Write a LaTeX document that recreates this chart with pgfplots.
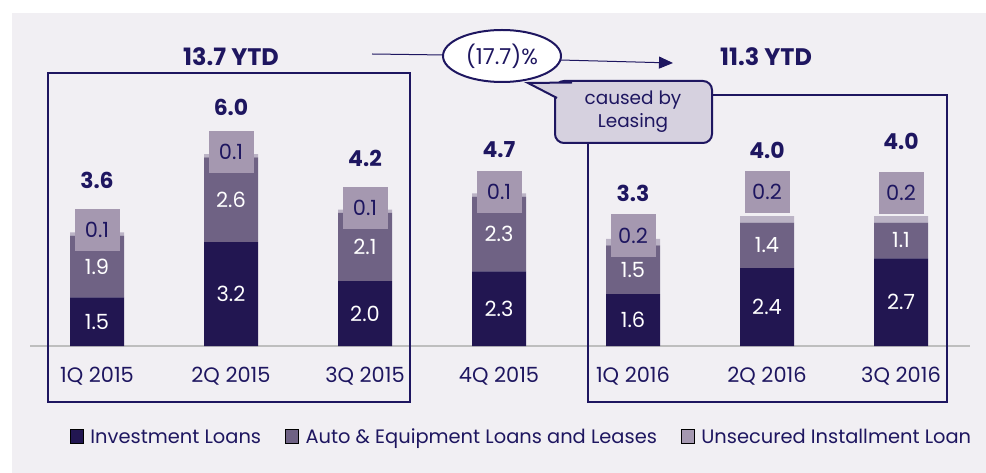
\documentclass[border=0pt]{standalone}
\usepackage{pgfplots}
\pgfplotsset{compat=1.18}
\usepackage{fontspec}
\setmainfont{Poppins}
\usetikzlibrary{shapes.geometric,arrows.meta}
\definecolor{inv}{HTML}{221651}
\definecolor{aut}{HTML}{6F6284}
\definecolor{uns}{HTML}{A598B0}
\definecolor{cap}{HTML}{BBB3C5}
\definecolor{navy}{HTML}{1E1660}
\definecolor{bg}{HTML}{F1EFF3}
\definecolor{basegray}{HTML}{BEBEBE}
\definecolor{callout}{HTML}{D6D1DF}
\begin{document}
\begin{tikzpicture}[x=1bp,y=-1bp]
\useasboundingbox (0,0) rectangle (986,473);
\fill[white] (0,0) rectangle (986,473);
\fill[bg] (12,13) rectangle (986,473);
% bars
\begin{axis}[at={(30bp,-346bp)}, anchor=south west, scale only axis,
  width=940bp, height=260bp, xmin=-0.5, xmax=6.515, ymin=0, ymax=8,
  ybar stacked, bar width=54bp,
  axis y line=none, axis x line=bottom,
  x axis line style={line width=2.5bp, basegray, -},
  xtick={0,...,6},
  xticklabels={1Q 2015,2Q 2015,3Q 2015,4Q 2015,1Q 2016,2Q 2016,3Q 2016},
  major tick length=0pt,
  xticklabel style={font=\fontsize{21}{21}\selectfont, text=navy, yshift=-18bp},
  legend style={at={(0.523,-0.35)}, anchor=center, draw=none, fill=none,
    font=\fontsize{19.5}{20}\selectfont, text=navy,
    /tikz/every odd column/.append style={column sep=5bp},
    /tikz/every even column/.append style={column sep=22bp}},
  legend columns=3, legend cell align=left,
  legend image code/.code={\fill[#1] (0bp,-6bp) rectangle (13bp,8bp);},
  ]
\addplot[fill=inv, draw=none, forget plot] coordinates {(0,1.5)(1,3.2)(2,2.0)(3,2.3)(4,1.6)(5,2.4)(6,2.7)};
\addplot[fill=aut, draw=none, forget plot] coordinates {(0,1.9)(1,2.6)(2,2.1)(3,2.3)(4,1.5)(5,1.4)(6,1.1)};
\addplot[fill=cap, draw=none, forget plot] coordinates {(0,0.1)(1,0.1)(2,0.1)(3,0.1)(4,0.2)(5,0.2)(6,0.2)};
\addlegendimage{fill=inv}
\addlegendimage{fill=aut}
\addlegendimage{fill=uns}
\legend{Investment Loans, Auto \& Equipment Loans and Leases, Unsecured Installment Loan}
\end{axis}
% labels
\begin{axis}[at={(30bp,-346bp)}, anchor=south west, scale only axis,
  width=940bp, height=260bp, xmin=-0.5, xmax=6.515, ymin=0, ymax=8,
  hide axis, clip=false]
\addplot[draw=none, mark=none, nodes near coords, point meta=explicit symbolic,
  every node near coord/.append style={anchor=center, text=white, font=\fontsize{21}{21}\selectfont}]
  coordinates {(0,0.75)[1.5] (1,1.6)[3.2] (2,1.0)[2.0] (3,1.15)[2.3] (4,0.8)[1.6] (5,1.2)[2.4] (6,1.35)[2.7]};
\addplot[draw=none, mark=none, nodes near coords, point meta=explicit symbolic,
  every node near coord/.append style={anchor=center, text=white, font=\fontsize{21}{21}\selectfont}]
  coordinates {(0,2.45)[1.9] (1,4.5)[2.6] (2,3.05)[2.1] (3,3.45)[2.3] (4,2.35)[1.5] (5,3.1)[1.4] (6,3.25)[1.1]};
\addplot[draw=none, mark=none, nodes near coords, point meta=explicit symbolic,
  every node near coord/.append style={anchor=center, text=navy, fill=uns, inner sep=0pt,
    minimum width=45bp, minimum height=42bp, font=\fontsize{21}{21}\selectfont}]
  coordinates {(0,3.58)[0.1] (1,5.98)[0.1] (2,4.25)[0.1] (3,4.74)[0.1] (4,3.4)[0.2] (5,4.74)[0.2] (6,4.72)[0.2]};
\addplot[draw=none, mark=none, nodes near coords, point meta=explicit symbolic,
  every node near coord/.append style={anchor=center, text=navy, font=\bfseries\fontsize{22}{22}\selectfont}]
  coordinates {(0,5.11)[3.6] (1,7.35)[6.0] (2,5.78)[4.2] (3,6.03)[4.7] (4,4.71)[3.3] (5,6.03)[4.0] (6,6.28)[4.0]};
\end{axis}
% YTD boxes
\draw[navy, line width=2.2bp] (48,73) rectangle (410,402);
\draw[navy, line width=2.2bp] (588,95) rectangle (947,402);
\node[text=navy, font=\bfseries\fontsize{24}{24}\selectfont] at (231,57) {13.7 YTD};
\node[text=navy, font=\bfseries\fontsize{24}{24}\selectfont] at (766,57) {11.3 YTD};
% arrow and ellipse
\draw[navy, line width=1bp] (372,54) -- (445,55);
\draw[navy, line width=1bp, -{Triangle[length=14bp,width=12bp]}] (560,60) -- (673,63);
\node[ellipse, draw=navy, line width=2bp, fill=white, minimum width=118bp, minimum height=52bp, inner sep=0pt,
  text=navy, font=\fontsize{22}{22}\selectfont] at (502,56) {(17.7)\%};
% callout
\fill[callout, draw=navy, line width=2bp, rounded corners=9bp] (555,81) rectangle (712,143);
\fill[callout] (528,83) -- (558,98) -- (572,82.5) -- cycle;
\draw[navy, line width=2bp] (557,98) -- (528,83) -- (572,82.5);
\node[text=navy, font=\fontsize{18.5}{23}\selectfont, align=center] at (633,112) {caused by\\Leasing};
\end{tikzpicture}
\end{document}
